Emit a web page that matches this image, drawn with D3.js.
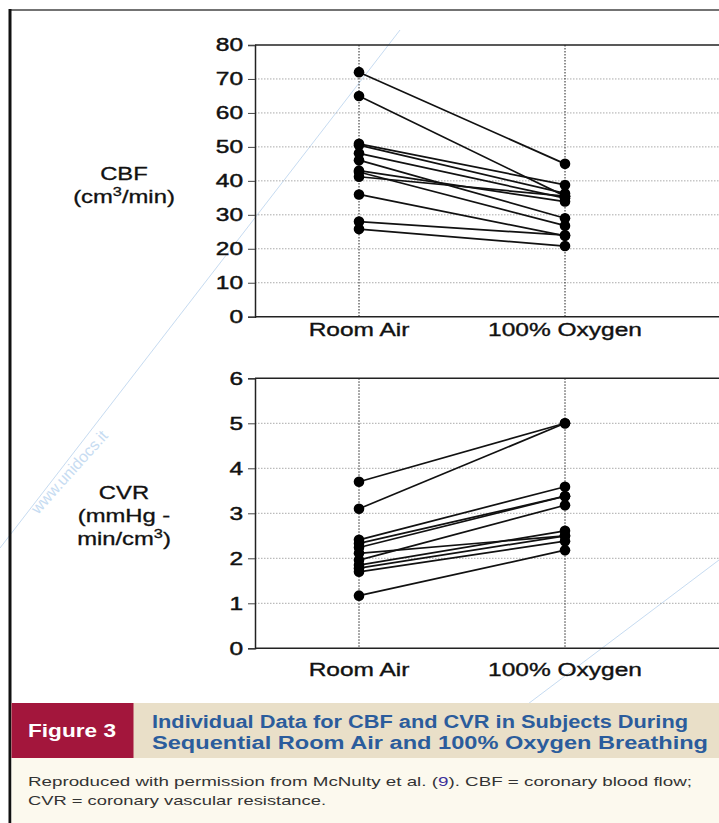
<!DOCTYPE html>
<html>
<head>
<meta charset="utf-8">
<script src="https://cdn.jsdelivr.net/npm/d3@7"></script>
<style>
  body { margin: 0; background: #fff; }
  svg { display: block; }
  text { font-family: "Liberation Sans", Arial, sans-serif; }
</style>
</head>
<body>
<script>
// data
var conditions = ["Room Air", "100% Oxygen"];

var cbfRoomAir = [72, 65, 50.9, 50.5, 48.1, 46.1, 43.0, 42.6, 41.2, 36.0, 28.0, 25.8];
var cbfOxygen  = [45, 35.5, 38.8, 36.3, 34.9, 29.0, 33.9, 26.8, 35.5, 23.8, 24.0, 20.8];
var cbfTicks = [0, 10, 20, 30, 40, 50, 60, 70, 80];

var cvrRoomAir = [3.70, 3.10, 2.41, 2.33, 2.24, 2.11, 1.96, 1.85, 1.78, 1.70, 1.17];
var cvrOxygen  = [5.00, 5.00, 3.59, 3.38, 3.38, 2.50, 3.18, 2.61, 2.50, 2.38, 2.18];
var cvrTicks = [0, 1, 2, 3, 4, 5, 6];

var W = 719, H = 823;
var STRETCH = 1.36; // the original figure is widened horizontally

var svg = d3.select("body").append("svg").attr("width", W).attr("height", H);

// watermark
var wm = svg.append("g").attr("stroke", "#b9d3ee").attr("stroke-width", 1).attr("opacity", 0.8);
wm.append("line").attr("x1", 0).attr("y1", 548).attr("x2", 400).attr("y2", 30);
wm.append("line").attr("x1", 370).attr("y1", 823).attr("x2", 719).attr("y2", 560);
svg.append("text").text("www.unidocs.it")
    .attr("transform", "translate(38,515) rotate(-48)")
    .attr("font-size", 16).attr("fill", "#c7dcf2");

// frame
svg.append("line").attr("x1", 9).attr("y1", 10).attr("x2", W).attr("y2", 10)
    .attr("stroke", "#444").attr("stroke-width", 1.5);
svg.append("line").attr("x1", 10).attr("y1", 9).attr("x2", 10).attr("y2", H)
    .attr("stroke", "#111").attr("stroke-width", 3);

var x = d3.scalePoint().domain(conditions).range([359, 565]);

function panel(top, bottom, domainMax, ticks, room, oxy, labelLines, labelY, catOffset) {
  var y = d3.scaleLinear().domain([0, domainMax]).range([bottom, top]);
  var g = svg.append("g");
  var left = 255, right = W + 5;

  // dotted grid
  g.selectAll(".grid").data(ticks.filter(function(t){ return t > 0 && t < domainMax; }))
    .enter().append("line")
    .attr("x1", left).attr("x2", right)
    .attr("y1", function(d){ return y(d); }).attr("y2", function(d){ return y(d); })
    .attr("stroke", "#aaa").attr("stroke-width", 1).attr("stroke-dasharray", "1.5,1.5");
  g.selectAll(".vgrid").data(conditions).enter().append("line")
    .attr("x1", function(d){ return x(d); }).attr("x2", function(d){ return x(d); })
    .attr("y1", top).attr("y2", bottom)
    .attr("stroke", "#222").attr("stroke-width", 1).attr("stroke-dasharray", "1.5,1.5");

  // box lines
  g.append("line").attr("x1", left).attr("x2", right).attr("y1", top).attr("y2", top)
    .attr("stroke", "#222").attr("stroke-width", 1.5);
  g.append("line").attr("x1", left).attr("x2", right).attr("y1", bottom).attr("y2", bottom)
    .attr("stroke", "#222").attr("stroke-width", 1.5);

  var axis = d3.axisLeft(y).tickValues(ticks).tickSize(7).tickPadding(5).tickFormat(d3.format("d"));
  var ag = g.append("g").attr("transform", "translate(" + left + ",0)").call(axis);
  ag.select(".domain").attr("stroke", "#222").attr("stroke-width", 1.5);
  ag.selectAll(".tick line").attr("stroke", "#444");
  ag.selectAll(".tick text").attr("font-size", 18).attr("fill", "#111")
    .attr("stroke", "#111").attr("stroke-width", 0.45).attr("class", "st")
    .attr("font-family", "'Liberation Sans', Arial, sans-serif");

  // category labels
  g.selectAll(".cat").data(conditions).enter().append("text")
    .attr("class", "st")
    .attr("x", function(d){ return x(d); }).attr("y", bottom + catOffset)
    .attr("text-anchor", "middle").attr("font-size", 18).attr("fill", "#111")
    .attr("stroke", "#111").attr("stroke-width", 0.35)
    .text(function(d){ return d; });

  // subject lines
  var pairs = room.map(function(v, i){ return [v, oxy[i]]; });
  g.selectAll(".subj").data(pairs).enter().append("line")
    .attr("x1", x(conditions[0])).attr("x2", x(conditions[1]))
    .attr("y1", function(d){ return y(d[0]); }).attr("y2", function(d){ return y(d[1]); })
    .attr("stroke", "#111").attr("stroke-width", 1.7);
  g.selectAll(".dr").data(room).enter().append("circle")
    .attr("cx", x(conditions[0])).attr("cy", function(d){ return y(d); }).attr("r", 5.3)
    .attr("fill", "#000");
  g.selectAll(".do").data(oxy).enter().append("circle")
    .attr("cx", x(conditions[1])).attr("cy", function(d){ return y(d); }).attr("r", 5.3)
    .attr("fill", "#000");

  // y label
  labelLines.forEach(function(l, i) {
    var t = g.append("text").attr("class", "st").attr("x", 124).attr("y", labelY + i * 23)
      .attr("text-anchor", "middle").attr("font-size", 17.5).attr("fill", "#111")
      .attr("stroke", "#111").attr("stroke-width", 0.3);
    l.forEach(function(part) {
      var ts = t.append("tspan").text(part.t);
      if (part.sup) ts.attr("font-size", 12).attr("dy", -7);
      if (part.down) ts.attr("dy", 7);
    });
  });
}

panel(45, 316.7, 80, cbfTicks, cbfRoomAir, cbfOxygen,
  [[{t: "CBF"}], [{t: "(cm"}, {t: "3", sup: true}, {t: "/min)", down: true}]], 180, 19);

panel(378.3, 648.3, 6, cvrTicks, cvrRoomAir, cvrOxygen,
  [[{t: "CVR"}], [{t: "(mmHg -"}], [{t: "min/cm"}, {t: "3", sup: true}, {t: ")", down: true}]], 499, 28);

// caption band
svg.append("rect").attr("x", 11.5).attr("y", 758).attr("width", W - 11.5).attr("height", H - 758)
  .attr("fill", "#fcf9ee");
svg.append("rect").attr("x", 11.5).attr("y", 703).attr("width", W - 11.5).attr("height", 55)
  .attr("fill", "#e9dfc8");
svg.append("rect").attr("x", 11.5).attr("y", 703).attr("width", 122).attr("height", 55)
  .attr("fill", "#a3163c");
svg.append("text").attr("x", 28).attr("y", 737).attr("font-size", 18).attr("font-weight", "bold")
  .attr("fill", "#fff").attr("textLength", 88).attr("lengthAdjust", "spacingAndGlyphs")
  .text("Figure 3");

var capLines = ["Individual Data for CBF and CVR in Subjects During",
                "Sequential Room Air and 100% Oxygen Breathing"];
var capWidths = [536, 556];
capLines.forEach(function(l, i) {
  svg.append("text").attr("x", 152).attr("y", 728 + i * 20.5)
    .attr("font-size", 17.5).attr("font-weight", "bold").attr("fill", "#2b5c9c")
    .attr("textLength", capWidths[i]).attr("lengthAdjust", "spacingAndGlyphs")
    .text(l);
});

var n1 = svg.append("text").attr("x", 28).attr("y", 786).attr("font-size", 13.5).attr("fill", "#333")
  .attr("textLength", 664).attr("lengthAdjust", "spacingAndGlyphs");
n1.append("tspan").text("Reproduced with permission from McNulty et al. (");
n1.append("tspan").attr("fill", "#3b2f9a").text("9");
n1.append("tspan").text("). CBF = coronary blood flow;");
svg.append("text").attr("x", 28).attr("y", 805).attr("font-size", 13.5).attr("fill", "#333")
  .attr("textLength", 298).attr("lengthAdjust", "spacingAndGlyphs")
  .text("CVR = coronary vascular resistance.");

// widen the chart texts like the source figure
svg.selectAll("text.st").each(function() {
  var w = this.getComputedTextLength();
  d3.select(this).attr("textLength", w * STRETCH).attr("lengthAdjust", "spacingAndGlyphs");
});
</script>
</body>
</html>
